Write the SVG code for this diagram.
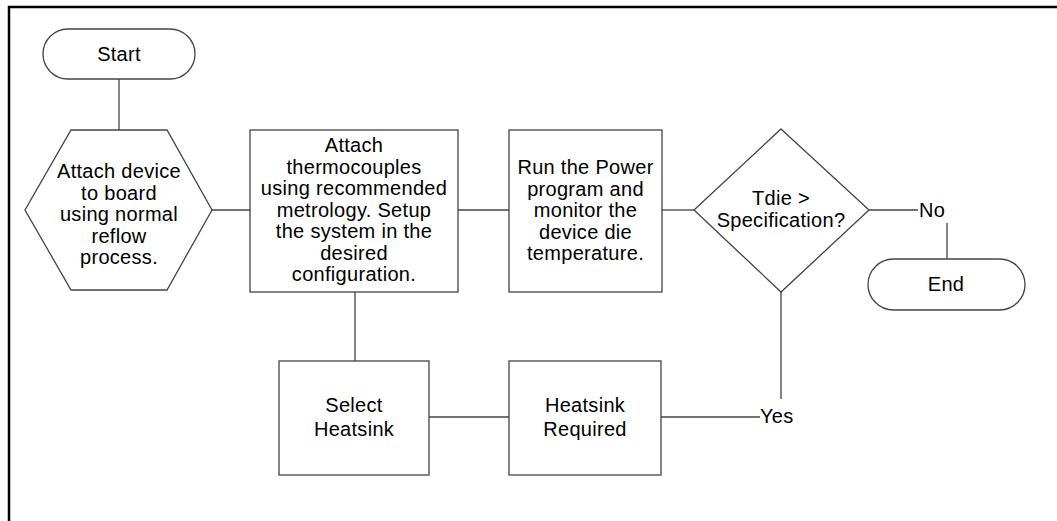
<svg xmlns="http://www.w3.org/2000/svg" width="1057" height="521" viewBox="0 0 1057 521">
<style>
.shape{fill:#fff;stroke:#444;stroke-width:1.3}
.conn{fill:none;stroke:#444;stroke-width:1.3}
text{font-family:"Liberation Sans",Arial,sans-serif;font-size:20px;fill:#000;text-anchor:middle;letter-spacing:0.3px}
.lbl{text-anchor:start}
</style>
<rect width="1057" height="521" fill="#fff"/>
<path d="M9,521 V7 H1057" fill="none" stroke="#000" stroke-width="2.5"/>
<g id="connectors">
<line class="conn" x1="119" y1="79" x2="119" y2="130"/>
<line class="conn" x1="212" y1="210" x2="250" y2="210"/>
<line class="conn" x1="458" y1="210" x2="509" y2="210"/>
<line class="conn" x1="662" y1="210" x2="694" y2="210"/>
<line class="conn" x1="869" y1="210" x2="918" y2="210"/>
<line class="conn" x1="947" y1="223" x2="947" y2="259"/>
<line class="conn" x1="781" y1="292" x2="781" y2="399"/>
<line class="conn" x1="661" y1="417" x2="760" y2="417"/>
<line class="conn" x1="429" y1="417" x2="509" y2="417"/>
<line class="conn" x1="355" y1="292" x2="355" y2="361"/>
<text class="lbl" x="919" y="217">No</text>
<text class="lbl" x="760" y="423">Yes</text>
</g>
<g id="start">
<rect class="shape" x="43" y="29" width="152" height="50" rx="25" ry="25"/>
<text x="119" y="61">Start</text>
</g>
<g id="attach-device">
<polygon class="shape" points="71,130 167,130 212,210 167,290 71,290 25,210"/>
<text x="119" y="178">Attach device</text>
<text x="119" y="199.5">to board</text>
<text x="119" y="221">using normal</text>
<text x="119" y="242.5">reflow</text>
<text x="119" y="264">process.</text>
</g>
<g id="attach-thermocouples">
<rect class="shape" x="250" y="130" width="208" height="162"/>
<text x="354" y="152">Attach</text>
<text x="354" y="173.5">thermocouples</text>
<text x="354" y="195">using recommended</text>
<text x="354" y="216.5">metrology. Setup</text>
<text x="354" y="238">the system in the</text>
<text x="354" y="259.5">desired</text>
<text x="354" y="281">configuration.</text>
</g>
<g id="run-power">
<rect class="shape" x="509" y="130" width="153" height="162"/>
<text x="585.5" y="174">Run the Power</text>
<text x="585.5" y="195.5">program and</text>
<text x="585.5" y="217">monitor the</text>
<text x="585.5" y="238.5">device die</text>
<text x="585.5" y="260">temperature.</text>
</g>
<g id="decision">
<polygon class="shape" points="781,129 869,210 781,292 694,210"/>
<text x="781" y="205">Tdie &gt;</text>
<text x="781" y="227">Specification?</text>
</g>
<g id="end">
<rect class="shape" x="868" y="259" width="157" height="51" rx="25.5" ry="25.5"/>
<text x="946" y="291">End</text>
</g>
<g id="select-heatsink">
<rect class="shape" x="279" y="361" width="150" height="114"/>
<text x="354" y="412">Select</text>
<text x="354" y="436">Heatsink</text>
</g>
<g id="heatsink-required">
<rect class="shape" x="509" y="361" width="152" height="114"/>
<text x="585" y="412">Heatsink</text>
<text x="585" y="436">Required</text>
</g>
</svg>
